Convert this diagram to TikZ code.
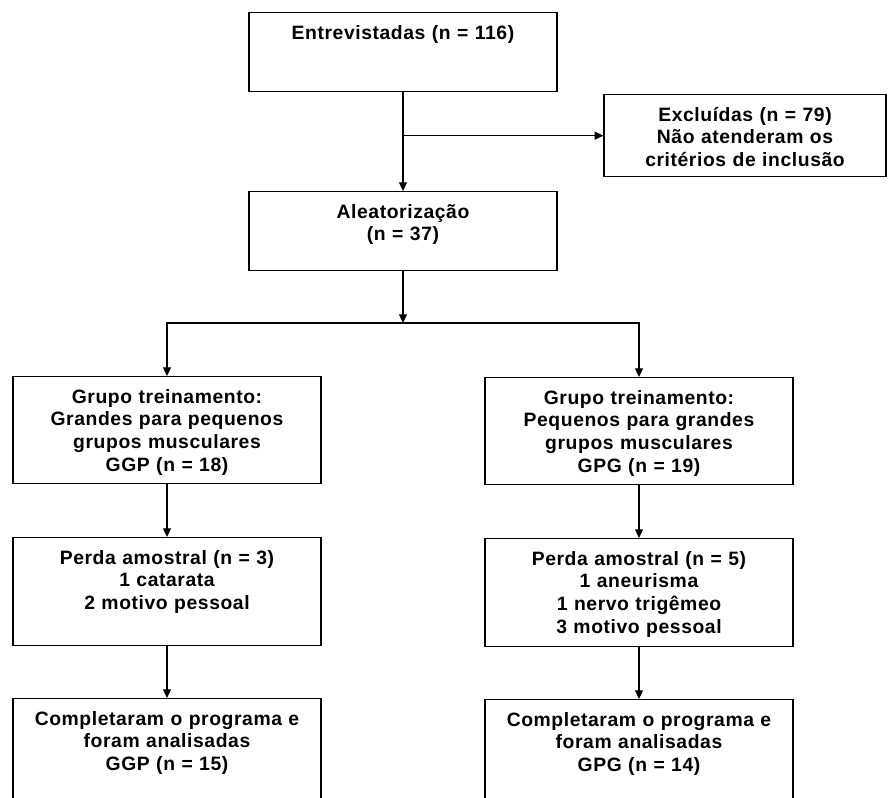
\documentclass[tikz,border=0pt]{standalone}
\usepackage{fontspec}
\setmainfont[LetterSpace=3]{Liberation Sans}
\usetikzlibrary{arrows.meta,positioning}
\tikzset{
  flowbox/.style={rectangle, draw=black, line width=1pt, anchor=north,
    minimum width=231pt, text width=225pt, align=center,
    font=\bfseries\fontsize{14.5}{17}\selectfont,
    inner xsep=3pt, inner ysep=9.5pt, text height=10.4pt},
  exclbox/.style={flowbox, minimum width=211.5pt, text width=205pt},
  flowarrow/.style={-{Triangle[length=6.5pt,width=6pt]}, draw=black, line width=0.8pt},
}
\begin{document}
\begin{tikzpicture}[x=0.75pt,y=-0.75pt]
  \useasboundingbox (0,0) rectangle (892,798);
  \clip (0,0) rectangle (892,798);

  % Recruitment and randomisation
  \node[flowbox, text depth=29.85pt] (entrev) at (403,12) {Entrevistadas (n = 116)};
  \node[exclbox, text depth=32.1pt] (excl) at (745,94) {Excluídas (n = 79)\\Não atenderam os\\critérios de inclusão};
  \node[flowbox, text depth=29.85pt] (aleat) at (403,191) {Aleatorização\\(n = 37)};

  % Two training groups
  \node[flowbox, text depth=50.85pt] (ggp) at (167,376) {Grupo treinamento:\\Grandes para pequenos\\grupos musculares\\GGP (n = 18)};
  \node[flowbox, text depth=50.85pt] (gpg) at (639,377) {Grupo treinamento:\\Pequenos para grandes\\grupos musculares\\GPG (n = 19)};

  % Losses
  \node[flowbox, text depth=51.6pt] (perdaggp) at (167,537) {Perda amostral (n = 3)\\1 catarata\\2 motivo pessoal};
  \node[flowbox, text depth=51.6pt] (perdagpg) at (639,538) {Perda amostral (n = 5)\\1 aneurisma\\1 nervo trigêmeo\\3 motivo pessoal};

  % Analysed
  \node[flowbox, text depth=68.1pt] (fimggp) at (167,698) {Completaram o programa e\\foram analisadas\\GGP (n = 15)};
  \node[flowbox, text depth=68.1pt] (fimgpg) at (639,699) {Completaram o programa e\\foram analisadas\\GPG (n = 14)};

  % Connectors
  \coordinate (split) at (entrev.south |- excl.west);
  \coordinate (branch) at (403,323);
  \draw[flowarrow] (entrev.south) -- (aleat.north);
  \draw[flowarrow] (split) -- (excl.west);
  \draw[flowarrow] (aleat.south) -- (branch);
  \draw[flowarrow] (branch) -| (ggp.north);
  \draw[flowarrow] (branch) -| (gpg.north);
  \draw[flowarrow] (ggp.south) -- (perdaggp.north);
  \draw[flowarrow] (gpg.south) -- (perdagpg.north);
  \draw[flowarrow] (perdaggp.south) -- (fimggp.north);
  \draw[flowarrow] (perdagpg.south) -- (fimgpg.north);
\end{tikzpicture}
\end{document}
